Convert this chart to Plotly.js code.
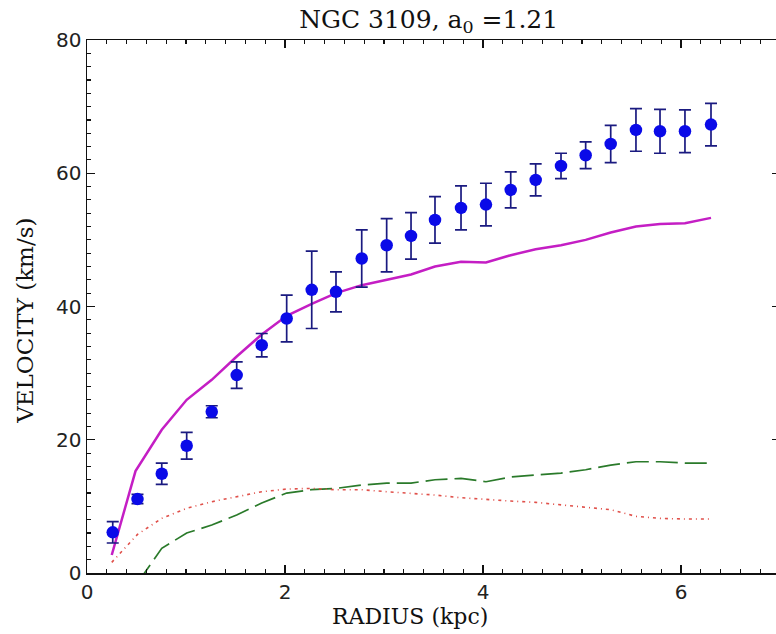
<!DOCTYPE html>
<html>
<head>
<meta charset="utf-8">
<script src="https://cdn.plot.ly/plotly-3.0.1.min.js"></script>
<style>html,body{margin:0;padding:0;overflow:hidden;background:#fff;}</style>
</head>
<body>
<div id="chart" style="width:780px;height:634px;"></div>
<script>
// Observed rotation curve
const radius = [0.26, 0.51, 0.755, 1.007, 1.26, 1.512, 1.765, 2.017, 2.27, 2.515, 2.775, 3.027, 3.273, 3.515, 3.778, 4.03, 4.28, 4.532, 4.788, 5.037, 5.29, 5.545, 5.788, 6.04, 6.303];
const velocity = [6.1, 11.1, 14.9, 19.1, 24.2, 29.7, 34.2, 38.2, 42.5, 42.2, 47.2, 49.2, 50.6, 53.0, 54.8, 55.3, 57.5, 59.0, 61.1, 62.7, 64.4, 66.5, 66.3, 66.3, 67.3];
const velErr = [1.6, 0.7, 1.6, 2.0, 0.9, 2.0, 1.75, 3.5, 5.8, 3.0, 4.3, 4.0, 3.5, 3.5, 3.3, 3.2, 2.7, 2.4, 1.9, 2.0, 2.8, 3.2, 3.3, 3.2, 3.2];

// Model curves
const modelR = [0.25, 0.49, 0.755, 1.007, 1.26, 1.512, 1.765, 2.017, 2.27, 2.515, 2.775, 3.027, 3.273, 3.515, 3.778, 4.03, 4.28, 4.532, 4.788, 5.037, 5.29, 5.545, 5.788, 6.04, 6.303];
const totalV = [2.7, 15.3, 21.5, 26.0, 29.0, 32.5, 35.8, 38.6, 40.4, 42.0, 43.2, 44.0, 44.8, 46.0, 46.7, 46.6, 47.7, 48.6, 49.2, 50.0, 51.1, 52.0, 52.4, 52.5, 53.3];
const gasR = [0.51, 0.755, 1.007, 1.26, 1.512, 1.765, 2.017, 2.27, 2.515, 2.775, 3.027, 3.273, 3.515, 3.778, 4.03, 4.28, 4.532, 4.788, 5.037, 5.29, 5.545, 5.788, 6.04, 6.303];
const gasV = [-1.5, 3.7, 6.0, 7.2, 8.7, 10.5, 12.0, 12.5, 12.7, 13.2, 13.5, 13.5, 14.0, 14.2, 13.7, 14.4, 14.7, 15.0, 15.5, 16.2, 16.7, 16.7, 16.5, 16.5];
const starR = [0.25, 0.51, 0.755, 1.007, 1.26, 1.512, 1.765, 2.017, 2.27, 2.515, 2.775, 3.027, 3.273, 3.515, 3.778, 4.03, 4.28, 4.532, 4.788, 5.037, 5.29, 5.545, 5.788, 6.04, 6.303];
const starV = [1.6, 5.8, 8.2, 9.7, 10.7, 11.5, 12.2, 12.6, 12.7, 12.5, 12.5, 12.2, 12.0, 11.7, 11.3, 11.0, 10.8, 10.6, 10.2, 9.8, 9.5, 8.5, 8.2, 8.1, 8.1];

const xTicks = [0, 2, 4, 6];
const yTicks = [0, 20, 40, 60, 80];

const traces = [
  {x: modelR, y: totalV, mode: 'lines', line: {color: '#c41ec4', width: 2.5}, hoverinfo: 'skip'},
  {x: gasR, y: gasV, mode: 'lines', line: {color: '#2a7a2a', width: 1.7, dash: '22px,7px'}, hoverinfo: 'skip'},
  {x: starR, y: starV, mode: 'lines', line: {color: '#e0504a', width: 1.6, dash: '3px,4px,1px,4px'}, hoverinfo: 'skip'},
  {x: radius, y: velocity, mode: 'markers', type: 'scatter',
   marker: {color: '#0a0ae8', size: 12.5},
   error_y: {type: 'data', array: velErr, visible: true, color: '#1a1a80', thickness: 1.7, width: 6}}
];

const serif = 'DejaVu Serif, Liberation Serif, serif';

const axisCommon = {
  showline: true, linecolor: '#111', linewidth: 1.5, mirror: 'ticks',
  ticks: 'inside', ticklen: 8, tickwidth: 1.3, tickcolor: '#111',
  showgrid: false, zeroline: false,
  tickfont: {family: 'DejaVu Sans', size: 20, color: '#222'}
};

const layout = {
  width: 780, height: 634,
  margin: {l: 87, r: 0, t: 40, b: 61},
  paper_bgcolor: '#fff', plot_bgcolor: '#fff',
  showlegend: false,
  title: {text: 'NGC 3109, a<sub>0</sub> =1.21', font: {family: serif, size: 25, color: '#111'}, xref: 'paper', x: 0.493, xanchor: 'center', y: 0.97, yanchor: 'middle'},
  xaxis: Object.assign({}, axisCommon, {
    range: [0, 7], tickvals: xTicks, ticktext: xTicks.map(String),
    minor: {dtick: 0.2, ticks: 'inside', ticklen: 4, tickwidth: 1.1, tickcolor: '#111'}
  }),
  yaxis: Object.assign({}, axisCommon, {
    range: [0, 80], tickvals: yTicks, ticktext: yTicks.map(String),
    minor: {dtick: 2, ticks: 'inside', ticklen: 4, tickwidth: 1.1, tickcolor: '#111'}
  }),
  annotations: [
    {text: 'RADIUS (kpc)', xref: 'paper', yref: 'paper', x: 0.466, y: -0.081, xanchor: 'center', yanchor: 'middle', showarrow: false,
     font: {family: serif, size: 22, color: '#111'}},
    {text: 'VELOCITY (km/s)', xref: 'paper', yref: 'paper', x: -0.0895, y: 0.473, xanchor: 'center', yanchor: 'middle', showarrow: false, textangle: -90,
     font: {family: serif, size: 23, color: '#111'}}
  ]
};

Plotly.newPlot('chart', traces, layout, {displayModeBar: false, staticPlot: true});
</script>
</body>
</html>
